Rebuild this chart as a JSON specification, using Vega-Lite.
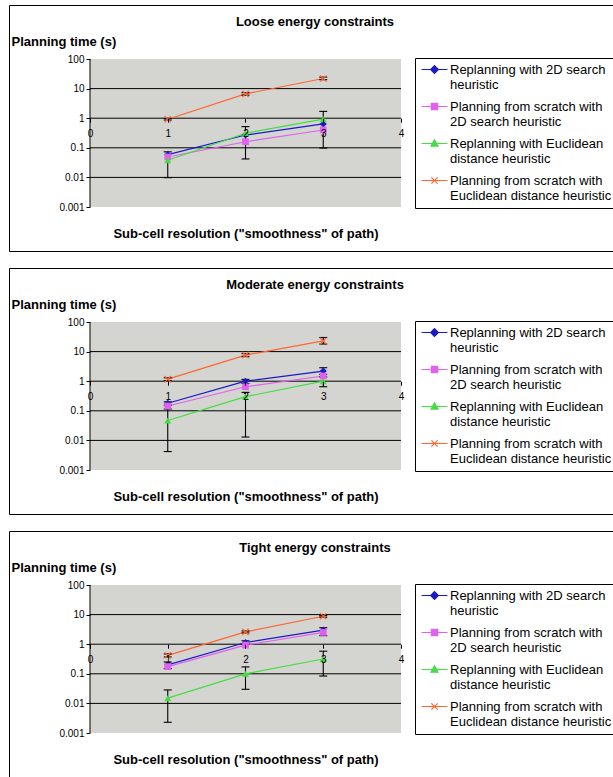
{
  "$schema": "https://vega.github.io/schema/vega-lite/v6.json",
  "padding": {"left": 8, "top": 4, "right": 0, "bottom": 0},
  "autosize": {"type": "pad"},
  "config": {
    "font": "Liberation Sans",
    "view": {"stroke": "#000", "strokeWidth": 1},
    "concat": {"spacing": 15},
    "axis": {"labelFont": "Liberation Sans", "labelFontSize": 10, "labelColor": "#000", "tickColor": "#000", "tickSize": 4, "labelPadding": 2, "domain": false, "grid": false, "titleFont": "Liberation Sans", "titleFontSize": 13, "titleFontWeight": "bold", "titleColor": "#000"},
    "title": {"font": "Liberation Sans", "fontSize": 13, "fontWeight": "bold", "color": "#000", "anchor": "middle", "frame": "group", "offset": -24},
    "legend": {
      "orient": "none", "legendX": 406, "legendY": 53, "title": null,
      "strokeColor": "#000", "fillColor": "#fff", "padding": 5, "cornerRadius": 0,
      "labelFont": "Liberation Sans", "labelFontSize": 13, "labelColor": "#000", "labelLimit": 180,
      "symbolSize": 49, "symbolOffset": 8, "labelOffset": 9, "rowPadding": 8, "symbolOpacity": 1, "symbolStrokeWidth": 1.2
    }
  },
  "datasets": {
    "pts": [
      {"panel": "Loose", "series": "Replanning with 2D search heuristic", "x": 1, "y": 0.059},
      {"panel": "Loose", "series": "Replanning with 2D search heuristic", "x": 2, "y": 0.27},
      {"panel": "Loose", "series": "Replanning with 2D search heuristic", "x": 3, "y": 0.64},
      {"panel": "Loose", "series": "Planning from scratch with 2D search heuristic", "x": 1, "y": 0.049},
      {"panel": "Loose", "series": "Planning from scratch with 2D search heuristic", "x": 2, "y": 0.16},
      {"panel": "Loose", "series": "Planning from scratch with 2D search heuristic", "x": 3, "y": 0.4},
      {"panel": "Loose", "series": "Replanning with Euclidean distance heuristic", "x": 1, "y": 0.038, "lo": 0.0098, "hi": 0.073},
      {"panel": "Loose", "series": "Replanning with Euclidean distance heuristic", "x": 2, "y": 0.31, "lo": 0.042, "hi": 0.52},
      {"panel": "Loose", "series": "Replanning with Euclidean distance heuristic", "x": 3, "y": 0.93, "lo": 0.098, "hi": 1.7},
      {"panel": "Loose", "series": "Planning from scratch with Euclidean distance heuristic", "x": 1, "y": 0.92, "lo": 0.87, "hi": 0.98},
      {"panel": "Loose", "series": "Planning from scratch with Euclidean distance heuristic", "x": 2, "y": 6.6, "lo": 6.0, "hi": 7.3},
      {"panel": "Loose", "series": "Planning from scratch with Euclidean distance heuristic", "x": 3, "y": 22, "lo": 20, "hi": 24.5},

      {"panel": "Moderate", "series": "Replanning with 2D search heuristic", "x": 1, "y": 0.18, "lo": 0.155, "hi": 0.2},
      {"panel": "Moderate", "series": "Replanning with 2D search heuristic", "x": 2, "y": 1.0, "lo": 0.84, "hi": 1.15},
      {"panel": "Moderate", "series": "Replanning with 2D search heuristic", "x": 3, "y": 2.2, "lo": 1.7, "hi": 2.85},
      {"panel": "Moderate", "series": "Planning from scratch with 2D search heuristic", "x": 1, "y": 0.145},
      {"panel": "Moderate", "series": "Planning from scratch with 2D search heuristic", "x": 2, "y": 0.65},
      {"panel": "Moderate", "series": "Planning from scratch with 2D search heuristic", "x": 3, "y": 1.5},
      {"panel": "Moderate", "series": "Replanning with Euclidean distance heuristic", "x": 1, "y": 0.047, "lo": 0.0042, "hi": 0.115},
      {"panel": "Moderate", "series": "Replanning with Euclidean distance heuristic", "x": 2, "y": 0.3, "lo": 0.013, "hi": 0.42},
      {"panel": "Moderate", "series": "Replanning with Euclidean distance heuristic", "x": 3, "y": 1.0, "lo": 0.65, "hi": 1.4},
      {"panel": "Moderate", "series": "Planning from scratch with Euclidean distance heuristic", "x": 1, "y": 1.17, "lo": 1.05, "hi": 1.3},
      {"panel": "Moderate", "series": "Planning from scratch with Euclidean distance heuristic", "x": 2, "y": 7.6, "lo": 6.8, "hi": 8.5},
      {"panel": "Moderate", "series": "Planning from scratch with Euclidean distance heuristic", "x": 3, "y": 23, "lo": 18, "hi": 30},

      {"panel": "Tight", "series": "Replanning with 2D search heuristic", "x": 1, "y": 0.2, "lo": 0.15, "hi": 0.25},
      {"panel": "Tight", "series": "Replanning with 2D search heuristic", "x": 2, "y": 1.14, "lo": 1.0, "hi": 1.3},
      {"panel": "Tight", "series": "Replanning with 2D search heuristic", "x": 3, "y": 3.0, "lo": 1.95, "hi": 3.6},
      {"panel": "Tight", "series": "Planning from scratch with 2D search heuristic", "x": 1, "y": 0.175},
      {"panel": "Tight", "series": "Planning from scratch with 2D search heuristic", "x": 2, "y": 0.93},
      {"panel": "Tight", "series": "Planning from scratch with 2D search heuristic", "x": 3, "y": 2.5},
      {"panel": "Tight", "series": "Replanning with Euclidean distance heuristic", "x": 1, "y": 0.015, "lo": 0.0023, "hi": 0.0285},
      {"panel": "Tight", "series": "Replanning with Euclidean distance heuristic", "x": 2, "y": 0.1, "lo": 0.03, "hi": 0.171},
      {"panel": "Tight", "series": "Replanning with Euclidean distance heuristic", "x": 3, "y": 0.316, "lo": 0.084, "hi": 0.58},
      {"panel": "Tight", "series": "Planning from scratch with Euclidean distance heuristic", "x": 1, "y": 0.42, "lo": 0.37, "hi": 0.47},
      {"panel": "Tight", "series": "Planning from scratch with Euclidean distance heuristic", "x": 2, "y": 2.6, "lo": 2.4, "hi": 2.8},
      {"panel": "Tight", "series": "Planning from scratch with Euclidean distance heuristic", "x": 3, "y": 8.8, "lo": 8.2, "hi": 9.4}
    ],
    "grid": [{"g": 10}, {"g": 1}, {"g": 0.1}, {"g": 0.01}],
    "one": [{"k": 1}]
  },
  "resolve": {"scale": {"color": "independent", "shape": "independent", "stroke": "independent"}},
  "vconcat": [
    {
      "title": {"text": "Loose energy constraints"},
      "width": 612, "height": 246,
      "layer": [
        {"data": {"name": "one"}, "mark": {"type": "rect", "fill": "#d4d5d0"},
         "encoding": {"x": {"datum": 0, "type": "quantitative", "scale": {"domain": [-1.0418, 6.8296], "nice": false, "zero": false}}, "x2": {"datum": 4},
                      "y": {"datum": 0.001, "type": "quantitative", "scale": {"type": "log", "domain": [3.263e-5, 6674], "nice": false}}, "y2": {"datum": 100}}},
        {"data": {"name": "grid"}, "mark": {"type": "rule", "color": "#000", "strokeWidth": 1},
         "encoding": {"x": {"datum": 0, "type": "quantitative", "scale": {"domain": [-1.0418, 6.8296], "nice": false, "zero": false}}, "x2": {"datum": 4},
                      "y": {"field": "g", "type": "quantitative", "scale": {"type": "log", "domain": [3.263e-5, 6674], "nice": false}}}},
        {"data": {"name": "one"}, "mark": {"type": "rule", "color": "#000", "strokeWidth": 1},
         "encoding": {"x": {"datum": 0, "type": "quantitative", "scale": {"domain": [-1.0418, 6.8296], "nice": false, "zero": false}},
                      "y": {"datum": 0.001, "type": "quantitative", "scale": {"type": "log", "domain": [3.263e-5, 6674], "nice": false}}, "y2": {"datum": 100}}},
        {"data": {"name": "pts"}, "transform": [{"filter": "datum.panel == 'Loose'"}],
         "mark": {"type": "line", "strokeWidth": 1.2},
         "encoding": {
           "x": {"field": "x", "type": "quantitative", "scale": {"domain": [-1.0418, 6.8296], "nice": false, "zero": false},
                 "axis": {"zindex": 2, "values": [0, 1, 2, 3, 4], "format": "d", "offset": -132.8, "labelPadding": 6, "labelFlush": false, "labelOverlap": false, "title": "Sub-cell resolution (\"smoothness\" of path)", "titleX": 236.5, "titleY": 114.8, "titleAlign": "center", "titleBaseline": "middle"}},
           "y": {"field": "y", "type": "quantitative", "scale": {"type": "log", "domain": [3.263e-5, 6674], "nice": false},
                 "axis": {"zindex": 2, "values": [0.001, 0.01, 0.1, 1, 10, 100], "format": "~g", "offset": -81, "labelFlush": false, "labelOverlap": false, "title": "Planning time (s)", "titleAngle": 0, "titleX": -79, "titleY": 36, "titleAlign": "left", "titleBaseline": "middle"}},
           "color": {"field": "series", "type": "nominal",
             "scale": {"domain": ["Replanning with 2D search heuristic", "Planning from scratch with 2D search heuristic", "Replanning with Euclidean distance heuristic", "Planning from scratch with Euclidean distance heuristic"], "range": ["#1a1ac8", "#e060f0", "#44dd44", "#ff6633"]},
             "legend": {"labelExpr": "datum.value == 'Replanning with 2D search heuristic' ? ['Replanning with 2D search', 'heuristic'] : datum.value == 'Planning from scratch with 2D search heuristic' ? ['Planning from scratch with', '2D search heuristic'] : datum.value == 'Replanning with Euclidean distance heuristic' ? ['Replanning with Euclidean', 'distance heuristic'] : ['Planning from scratch with', 'Euclidean distance heuristic']"}}
         }},
        {"data": {"name": "pts"}, "transform": [{"filter": "datum.panel == 'Loose'"}],
         "mark": {"type": "point", "filled": true, "opacity": 0},
         "encoding": {
           "x": {"field": "x", "type": "quantitative", "scale": {"domain": [-1.0418, 6.8296], "nice": false, "zero": false}},
           "y": {"field": "y", "type": "quantitative", "scale": {"type": "log", "domain": [3.263e-5, 6674], "nice": false}},
           "color": {"field": "series", "type": "nominal", "scale": {"domain": ["Replanning with 2D search heuristic", "Planning from scratch with 2D search heuristic", "Replanning with Euclidean distance heuristic", "Planning from scratch with Euclidean distance heuristic"], "range": ["#1a1ac8", "#e060f0", "#44dd44", "#ff6633"]}},
           "stroke": {"field": "series", "type": "nominal", "scale": {"domain": ["Replanning with 2D search heuristic", "Planning from scratch with 2D search heuristic", "Replanning with Euclidean distance heuristic", "Planning from scratch with Euclidean distance heuristic"], "range": ["#1a1ac8", "#e060f0", "#44dd44", "#ff6633"]}},
           "shape": {"field": "series", "type": "nominal", "scale": {"domain": ["Replanning with 2D search heuristic", "Planning from scratch with 2D search heuristic", "Replanning with Euclidean distance heuristic", "Planning from scratch with Euclidean distance heuristic"], "range": ["M-3.7,0L3.7,0M0,-1.1L1.1,0L0,1.1L-1.1,0Z", "M-3.7,0L3.7,0M-0.9,-0.9L0.9,-0.9L0.9,0.9L-0.9,0.9Z", "M-3.7,0L3.7,0M0,-1.05L1,0.75L-1,0.75Z", "M-3.7,0L3.7,0M-0.9,-0.9L0.9,0.9M0.9,-0.9L-0.9,0.9"]}}
         }},
        {"data": {"name": "pts"}, "transform": [{"filter": "datum.panel == 'Loose' && isValid(datum.lo)"}],
         "mark": {"type": "rule", "color": "#000", "strokeWidth": 1.1},
         "encoding": {"x": {"field": "x", "type": "quantitative", "scale": {"domain": [-1.0418, 6.8296], "nice": false, "zero": false}},
                      "y": {"field": "lo", "type": "quantitative", "scale": {"type": "log", "domain": [3.263e-5, 6674], "nice": false}}, "y2": {"field": "hi"}}},
        {"data": {"name": "pts"}, "transform": [{"filter": "datum.panel == 'Loose' && isValid(datum.lo)"}],
         "mark": {"type": "tick", "orient": "horizontal", "size": 8, "thickness": 1.1, "color": "#000", "opacity": 1},
         "encoding": {"x": {"field": "x", "type": "quantitative", "scale": {"domain": [-1.0418, 6.8296], "nice": false, "zero": false}},
                      "y": {"field": "lo", "type": "quantitative", "scale": {"type": "log", "domain": [3.263e-5, 6674], "nice": false}}}},
        {"data": {"name": "pts"}, "transform": [{"filter": "datum.panel == 'Loose' && isValid(datum.lo)"}],
         "mark": {"type": "tick", "orient": "horizontal", "size": 8, "thickness": 1.1, "color": "#000", "opacity": 1},
         "encoding": {"x": {"field": "x", "type": "quantitative", "scale": {"domain": [-1.0418, 6.8296], "nice": false, "zero": false}},
                      "y": {"field": "hi", "type": "quantitative", "scale": {"type": "log", "domain": [3.263e-5, 6674], "nice": false}}}},
        {"data": {"name": "pts"}, "transform": [{"filter": "datum.panel == 'Loose' && datum.series == 'Replanning with 2D search heuristic'"}],
         "mark": {"type": "point", "shape": "diamond", "filled": true, "size": 50, "opacity": 1, "color": "#1a1ac8"},
         "encoding": {"x": {"field": "x", "type": "quantitative", "scale": {"domain": [-1.0418, 6.8296], "nice": false, "zero": false}},
                      "y": {"field": "y", "type": "quantitative", "scale": {"type": "log", "domain": [3.263e-5, 6674], "nice": false}}}},
        {"data": {"name": "pts"}, "transform": [{"filter": "datum.panel == 'Loose' && datum.series == 'Planning from scratch with 2D search heuristic'"}],
         "mark": {"type": "point", "shape": "square", "filled": true, "size": 45, "opacity": 1, "color": "#e060f0"},
         "encoding": {"x": {"field": "x", "type": "quantitative", "scale": {"domain": [-1.0418, 6.8296], "nice": false, "zero": false}},
                      "y": {"field": "y", "type": "quantitative", "scale": {"type": "log", "domain": [3.263e-5, 6674], "nice": false}}}},
        {"data": {"name": "pts"}, "transform": [{"filter": "datum.panel == 'Loose' && datum.series == 'Replanning with Euclidean distance heuristic'"}],
         "mark": {"type": "point", "shape": "triangle-up", "filled": true, "size": 50, "opacity": 1, "color": "#44dd44"},
         "encoding": {"x": {"field": "x", "type": "quantitative", "scale": {"domain": [-1.0418, 6.8296], "nice": false, "zero": false}},
                      "y": {"field": "y", "type": "quantitative", "scale": {"type": "log", "domain": [3.263e-5, 6674], "nice": false}}}},
        {"data": {"name": "pts"}, "transform": [{"filter": "datum.panel == 'Loose' && datum.series == 'Planning from scratch with Euclidean distance heuristic'"}],
         "mark": {"type": "point", "shape": "M-1,-1L1,1M1,-1L-1,1", "filled": false, "size": 40, "strokeWidth": 1.2, "opacity": 1, "color": "#ff6633"},
         "encoding": {"x": {"field": "x", "type": "quantitative", "scale": {"domain": [-1.0418, 6.8296], "nice": false, "zero": false}},
                      "y": {"field": "y", "type": "quantitative", "scale": {"type": "log", "domain": [3.263e-5, 6674], "nice": false}}}}
      ]
    },
    {
      "title": {"text": "Moderate energy constraints"},
      "width": 612, "height": 246,
      "layer": [
        {"data": {"name": "one"}, "mark": {"type": "rect", "fill": "#d4d5d0"},
         "encoding": {"x": {"datum": 0, "type": "quantitative", "scale": {"domain": [-1.0418, 6.8296], "nice": false, "zero": false}}, "x2": {"datum": 4},
                      "y": {"datum": 0.001, "type": "quantitative", "scale": {"type": "log", "domain": [3.263e-5, 6674], "nice": false}}, "y2": {"datum": 100}}},
        {"data": {"name": "grid"}, "mark": {"type": "rule", "color": "#000", "strokeWidth": 1},
         "encoding": {"x": {"datum": 0, "type": "quantitative", "scale": {"domain": [-1.0418, 6.8296], "nice": false, "zero": false}}, "x2": {"datum": 4},
                      "y": {"field": "g", "type": "quantitative", "scale": {"type": "log", "domain": [3.263e-5, 6674], "nice": false}}}},
        {"data": {"name": "one"}, "mark": {"type": "rule", "color": "#000", "strokeWidth": 1},
         "encoding": {"x": {"datum": 0, "type": "quantitative", "scale": {"domain": [-1.0418, 6.8296], "nice": false, "zero": false}},
                      "y": {"datum": 0.001, "type": "quantitative", "scale": {"type": "log", "domain": [3.263e-5, 6674], "nice": false}}, "y2": {"datum": 100}}},
        {"data": {"name": "pts"}, "transform": [{"filter": "datum.panel == 'Moderate'"}],
         "mark": {"type": "line", "strokeWidth": 1.2},
         "encoding": {
           "x": {"field": "x", "type": "quantitative", "scale": {"domain": [-1.0418, 6.8296], "nice": false, "zero": false},
                 "axis": {"zindex": 2, "values": [0, 1, 2, 3, 4], "format": "d", "offset": -132.8, "labelPadding": 6, "labelFlush": false, "labelOverlap": false, "title": "Sub-cell resolution (\"smoothness\" of path)", "titleX": 236.5, "titleY": 114.8, "titleAlign": "center", "titleBaseline": "middle"}},
           "y": {"field": "y", "type": "quantitative", "scale": {"type": "log", "domain": [3.263e-5, 6674], "nice": false},
                 "axis": {"zindex": 2, "values": [0.001, 0.01, 0.1, 1, 10, 100], "format": "~g", "offset": -81, "labelFlush": false, "labelOverlap": false, "title": "Planning time (s)", "titleAngle": 0, "titleX": -79, "titleY": 36, "titleAlign": "left", "titleBaseline": "middle"}},
           "color": {"field": "series", "type": "nominal",
             "scale": {"domain": ["Replanning with 2D search heuristic", "Planning from scratch with 2D search heuristic", "Replanning with Euclidean distance heuristic", "Planning from scratch with Euclidean distance heuristic"], "range": ["#1a1ac8", "#e060f0", "#44dd44", "#ff6633"]},
             "legend": {"labelExpr": "datum.value == 'Replanning with 2D search heuristic' ? ['Replanning with 2D search', 'heuristic'] : datum.value == 'Planning from scratch with 2D search heuristic' ? ['Planning from scratch with', '2D search heuristic'] : datum.value == 'Replanning with Euclidean distance heuristic' ? ['Replanning with Euclidean', 'distance heuristic'] : ['Planning from scratch with', 'Euclidean distance heuristic']"}}
         }},
        {"data": {"name": "pts"}, "transform": [{"filter": "datum.panel == 'Moderate'"}],
         "mark": {"type": "point", "filled": true, "opacity": 0},
         "encoding": {
           "x": {"field": "x", "type": "quantitative", "scale": {"domain": [-1.0418, 6.8296], "nice": false, "zero": false}},
           "y": {"field": "y", "type": "quantitative", "scale": {"type": "log", "domain": [3.263e-5, 6674], "nice": false}},
           "color": {"field": "series", "type": "nominal", "scale": {"domain": ["Replanning with 2D search heuristic", "Planning from scratch with 2D search heuristic", "Replanning with Euclidean distance heuristic", "Planning from scratch with Euclidean distance heuristic"], "range": ["#1a1ac8", "#e060f0", "#44dd44", "#ff6633"]}},
           "stroke": {"field": "series", "type": "nominal", "scale": {"domain": ["Replanning with 2D search heuristic", "Planning from scratch with 2D search heuristic", "Replanning with Euclidean distance heuristic", "Planning from scratch with Euclidean distance heuristic"], "range": ["#1a1ac8", "#e060f0", "#44dd44", "#ff6633"]}},
           "shape": {"field": "series", "type": "nominal", "scale": {"domain": ["Replanning with 2D search heuristic", "Planning from scratch with 2D search heuristic", "Replanning with Euclidean distance heuristic", "Planning from scratch with Euclidean distance heuristic"], "range": ["M-3.7,0L3.7,0M0,-1.1L1.1,0L0,1.1L-1.1,0Z", "M-3.7,0L3.7,0M-0.9,-0.9L0.9,-0.9L0.9,0.9L-0.9,0.9Z", "M-3.7,0L3.7,0M0,-1.05L1,0.75L-1,0.75Z", "M-3.7,0L3.7,0M-0.9,-0.9L0.9,0.9M0.9,-0.9L-0.9,0.9"]}}
         }},
        {"data": {"name": "pts"}, "transform": [{"filter": "datum.panel == 'Moderate' && isValid(datum.lo)"}],
         "mark": {"type": "rule", "color": "#000", "strokeWidth": 1.1},
         "encoding": {"x": {"field": "x", "type": "quantitative", "scale": {"domain": [-1.0418, 6.8296], "nice": false, "zero": false}},
                      "y": {"field": "lo", "type": "quantitative", "scale": {"type": "log", "domain": [3.263e-5, 6674], "nice": false}}, "y2": {"field": "hi"}}},
        {"data": {"name": "pts"}, "transform": [{"filter": "datum.panel == 'Moderate' && isValid(datum.lo)"}],
         "mark": {"type": "tick", "orient": "horizontal", "size": 8, "thickness": 1.1, "color": "#000", "opacity": 1},
         "encoding": {"x": {"field": "x", "type": "quantitative", "scale": {"domain": [-1.0418, 6.8296], "nice": false, "zero": false}},
                      "y": {"field": "lo", "type": "quantitative", "scale": {"type": "log", "domain": [3.263e-5, 6674], "nice": false}}}},
        {"data": {"name": "pts"}, "transform": [{"filter": "datum.panel == 'Moderate' && isValid(datum.lo)"}],
         "mark": {"type": "tick", "orient": "horizontal", "size": 8, "thickness": 1.1, "color": "#000", "opacity": 1},
         "encoding": {"x": {"field": "x", "type": "quantitative", "scale": {"domain": [-1.0418, 6.8296], "nice": false, "zero": false}},
                      "y": {"field": "hi", "type": "quantitative", "scale": {"type": "log", "domain": [3.263e-5, 6674], "nice": false}}}},
        {"data": {"name": "pts"}, "transform": [{"filter": "datum.panel == 'Moderate' && datum.series == 'Replanning with 2D search heuristic'"}],
         "mark": {"type": "point", "shape": "diamond", "filled": true, "size": 50, "opacity": 1, "color": "#1a1ac8"},
         "encoding": {"x": {"field": "x", "type": "quantitative", "scale": {"domain": [-1.0418, 6.8296], "nice": false, "zero": false}},
                      "y": {"field": "y", "type": "quantitative", "scale": {"type": "log", "domain": [3.263e-5, 6674], "nice": false}}}},
        {"data": {"name": "pts"}, "transform": [{"filter": "datum.panel == 'Moderate' && datum.series == 'Planning from scratch with 2D search heuristic'"}],
         "mark": {"type": "point", "shape": "square", "filled": true, "size": 45, "opacity": 1, "color": "#e060f0"},
         "encoding": {"x": {"field": "x", "type": "quantitative", "scale": {"domain": [-1.0418, 6.8296], "nice": false, "zero": false}},
                      "y": {"field": "y", "type": "quantitative", "scale": {"type": "log", "domain": [3.263e-5, 6674], "nice": false}}}},
        {"data": {"name": "pts"}, "transform": [{"filter": "datum.panel == 'Moderate' && datum.series == 'Replanning with Euclidean distance heuristic'"}],
         "mark": {"type": "point", "shape": "triangle-up", "filled": true, "size": 50, "opacity": 1, "color": "#44dd44"},
         "encoding": {"x": {"field": "x", "type": "quantitative", "scale": {"domain": [-1.0418, 6.8296], "nice": false, "zero": false}},
                      "y": {"field": "y", "type": "quantitative", "scale": {"type": "log", "domain": [3.263e-5, 6674], "nice": false}}}},
        {"data": {"name": "pts"}, "transform": [{"filter": "datum.panel == 'Moderate' && datum.series == 'Planning from scratch with Euclidean distance heuristic'"}],
         "mark": {"type": "point", "shape": "M-1,-1L1,1M1,-1L-1,1", "filled": false, "size": 40, "strokeWidth": 1.2, "opacity": 1, "color": "#ff6633"},
         "encoding": {"x": {"field": "x", "type": "quantitative", "scale": {"domain": [-1.0418, 6.8296], "nice": false, "zero": false}},
                      "y": {"field": "y", "type": "quantitative", "scale": {"type": "log", "domain": [3.263e-5, 6674], "nice": false}}}}
      ]
    },
    {
      "title": {"text": "Tight energy constraints"},
      "width": 612, "height": 246,
      "layer": [
        {"data": {"name": "one"}, "mark": {"type": "rect", "fill": "#d4d5d0"},
         "encoding": {"x": {"datum": 0, "type": "quantitative", "scale": {"domain": [-1.0418, 6.8296], "nice": false, "zero": false}}, "x2": {"datum": 4},
                      "y": {"datum": 0.001, "type": "quantitative", "scale": {"type": "log", "domain": [3.263e-5, 6674], "nice": false}}, "y2": {"datum": 100}}},
        {"data": {"name": "grid"}, "mark": {"type": "rule", "color": "#000", "strokeWidth": 1},
         "encoding": {"x": {"datum": 0, "type": "quantitative", "scale": {"domain": [-1.0418, 6.8296], "nice": false, "zero": false}}, "x2": {"datum": 4},
                      "y": {"field": "g", "type": "quantitative", "scale": {"type": "log", "domain": [3.263e-5, 6674], "nice": false}}}},
        {"data": {"name": "one"}, "mark": {"type": "rule", "color": "#000", "strokeWidth": 1},
         "encoding": {"x": {"datum": 0, "type": "quantitative", "scale": {"domain": [-1.0418, 6.8296], "nice": false, "zero": false}},
                      "y": {"datum": 0.001, "type": "quantitative", "scale": {"type": "log", "domain": [3.263e-5, 6674], "nice": false}}, "y2": {"datum": 100}}},
        {"data": {"name": "pts"}, "transform": [{"filter": "datum.panel == 'Tight'"}],
         "mark": {"type": "line", "strokeWidth": 1.2},
         "encoding": {
           "x": {"field": "x", "type": "quantitative", "scale": {"domain": [-1.0418, 6.8296], "nice": false, "zero": false},
                 "axis": {"zindex": 2, "values": [0, 1, 2, 3, 4], "format": "d", "offset": -132.8, "labelPadding": 6, "labelFlush": false, "labelOverlap": false, "title": "Sub-cell resolution (\"smoothness\" of path)", "titleX": 236.5, "titleY": 114.8, "titleAlign": "center", "titleBaseline": "middle"}},
           "y": {"field": "y", "type": "quantitative", "scale": {"type": "log", "domain": [3.263e-5, 6674], "nice": false},
                 "axis": {"zindex": 2, "values": [0.001, 0.01, 0.1, 1, 10, 100], "format": "~g", "offset": -81, "labelFlush": false, "labelOverlap": false, "title": "Planning time (s)", "titleAngle": 0, "titleX": -79, "titleY": 36, "titleAlign": "left", "titleBaseline": "middle"}},
           "color": {"field": "series", "type": "nominal",
             "scale": {"domain": ["Replanning with 2D search heuristic", "Planning from scratch with 2D search heuristic", "Replanning with Euclidean distance heuristic", "Planning from scratch with Euclidean distance heuristic"], "range": ["#1a1ac8", "#e060f0", "#44dd44", "#ff6633"]},
             "legend": {"labelExpr": "datum.value == 'Replanning with 2D search heuristic' ? ['Replanning with 2D search', 'heuristic'] : datum.value == 'Planning from scratch with 2D search heuristic' ? ['Planning from scratch with', '2D search heuristic'] : datum.value == 'Replanning with Euclidean distance heuristic' ? ['Replanning with Euclidean', 'distance heuristic'] : ['Planning from scratch with', 'Euclidean distance heuristic']"}}
         }},
        {"data": {"name": "pts"}, "transform": [{"filter": "datum.panel == 'Tight'"}],
         "mark": {"type": "point", "filled": true, "opacity": 0},
         "encoding": {
           "x": {"field": "x", "type": "quantitative", "scale": {"domain": [-1.0418, 6.8296], "nice": false, "zero": false}},
           "y": {"field": "y", "type": "quantitative", "scale": {"type": "log", "domain": [3.263e-5, 6674], "nice": false}},
           "color": {"field": "series", "type": "nominal", "scale": {"domain": ["Replanning with 2D search heuristic", "Planning from scratch with 2D search heuristic", "Replanning with Euclidean distance heuristic", "Planning from scratch with Euclidean distance heuristic"], "range": ["#1a1ac8", "#e060f0", "#44dd44", "#ff6633"]}},
           "stroke": {"field": "series", "type": "nominal", "scale": {"domain": ["Replanning with 2D search heuristic", "Planning from scratch with 2D search heuristic", "Replanning with Euclidean distance heuristic", "Planning from scratch with Euclidean distance heuristic"], "range": ["#1a1ac8", "#e060f0", "#44dd44", "#ff6633"]}},
           "shape": {"field": "series", "type": "nominal", "scale": {"domain": ["Replanning with 2D search heuristic", "Planning from scratch with 2D search heuristic", "Replanning with Euclidean distance heuristic", "Planning from scratch with Euclidean distance heuristic"], "range": ["M-3.7,0L3.7,0M0,-1.1L1.1,0L0,1.1L-1.1,0Z", "M-3.7,0L3.7,0M-0.9,-0.9L0.9,-0.9L0.9,0.9L-0.9,0.9Z", "M-3.7,0L3.7,0M0,-1.05L1,0.75L-1,0.75Z", "M-3.7,0L3.7,0M-0.9,-0.9L0.9,0.9M0.9,-0.9L-0.9,0.9"]}}
         }},
        {"data": {"name": "pts"}, "transform": [{"filter": "datum.panel == 'Tight' && isValid(datum.lo)"}],
         "mark": {"type": "rule", "color": "#000", "strokeWidth": 1.1},
         "encoding": {"x": {"field": "x", "type": "quantitative", "scale": {"domain": [-1.0418, 6.8296], "nice": false, "zero": false}},
                      "y": {"field": "lo", "type": "quantitative", "scale": {"type": "log", "domain": [3.263e-5, 6674], "nice": false}}, "y2": {"field": "hi"}}},
        {"data": {"name": "pts"}, "transform": [{"filter": "datum.panel == 'Tight' && isValid(datum.lo)"}],
         "mark": {"type": "tick", "orient": "horizontal", "size": 8, "thickness": 1.1, "color": "#000", "opacity": 1},
         "encoding": {"x": {"field": "x", "type": "quantitative", "scale": {"domain": [-1.0418, 6.8296], "nice": false, "zero": false}},
                      "y": {"field": "lo", "type": "quantitative", "scale": {"type": "log", "domain": [3.263e-5, 6674], "nice": false}}}},
        {"data": {"name": "pts"}, "transform": [{"filter": "datum.panel == 'Tight' && isValid(datum.lo)"}],
         "mark": {"type": "tick", "orient": "horizontal", "size": 8, "thickness": 1.1, "color": "#000", "opacity": 1},
         "encoding": {"x": {"field": "x", "type": "quantitative", "scale": {"domain": [-1.0418, 6.8296], "nice": false, "zero": false}},
                      "y": {"field": "hi", "type": "quantitative", "scale": {"type": "log", "domain": [3.263e-5, 6674], "nice": false}}}},
        {"data": {"name": "pts"}, "transform": [{"filter": "datum.panel == 'Tight' && datum.series == 'Replanning with 2D search heuristic'"}],
         "mark": {"type": "point", "shape": "diamond", "filled": true, "size": 50, "opacity": 1, "color": "#1a1ac8"},
         "encoding": {"x": {"field": "x", "type": "quantitative", "scale": {"domain": [-1.0418, 6.8296], "nice": false, "zero": false}},
                      "y": {"field": "y", "type": "quantitative", "scale": {"type": "log", "domain": [3.263e-5, 6674], "nice": false}}}},
        {"data": {"name": "pts"}, "transform": [{"filter": "datum.panel == 'Tight' && datum.series == 'Planning from scratch with 2D search heuristic'"}],
         "mark": {"type": "point", "shape": "square", "filled": true, "size": 45, "opacity": 1, "color": "#e060f0"},
         "encoding": {"x": {"field": "x", "type": "quantitative", "scale": {"domain": [-1.0418, 6.8296], "nice": false, "zero": false}},
                      "y": {"field": "y", "type": "quantitative", "scale": {"type": "log", "domain": [3.263e-5, 6674], "nice": false}}}},
        {"data": {"name": "pts"}, "transform": [{"filter": "datum.panel == 'Tight' && datum.series == 'Replanning with Euclidean distance heuristic'"}],
         "mark": {"type": "point", "shape": "triangle-up", "filled": true, "size": 50, "opacity": 1, "color": "#44dd44"},
         "encoding": {"x": {"field": "x", "type": "quantitative", "scale": {"domain": [-1.0418, 6.8296], "nice": false, "zero": false}},
                      "y": {"field": "y", "type": "quantitative", "scale": {"type": "log", "domain": [3.263e-5, 6674], "nice": false}}}},
        {"data": {"name": "pts"}, "transform": [{"filter": "datum.panel == 'Tight' && datum.series == 'Planning from scratch with Euclidean distance heuristic'"}],
         "mark": {"type": "point", "shape": "M-1,-1L1,1M1,-1L-1,1", "filled": false, "size": 40, "strokeWidth": 1.2, "opacity": 1, "color": "#ff6633"},
         "encoding": {"x": {"field": "x", "type": "quantitative", "scale": {"domain": [-1.0418, 6.8296], "nice": false, "zero": false}},
                      "y": {"field": "y", "type": "quantitative", "scale": {"type": "log", "domain": [3.263e-5, 6674], "nice": false}}}}
      ]
    }
  ]
}
